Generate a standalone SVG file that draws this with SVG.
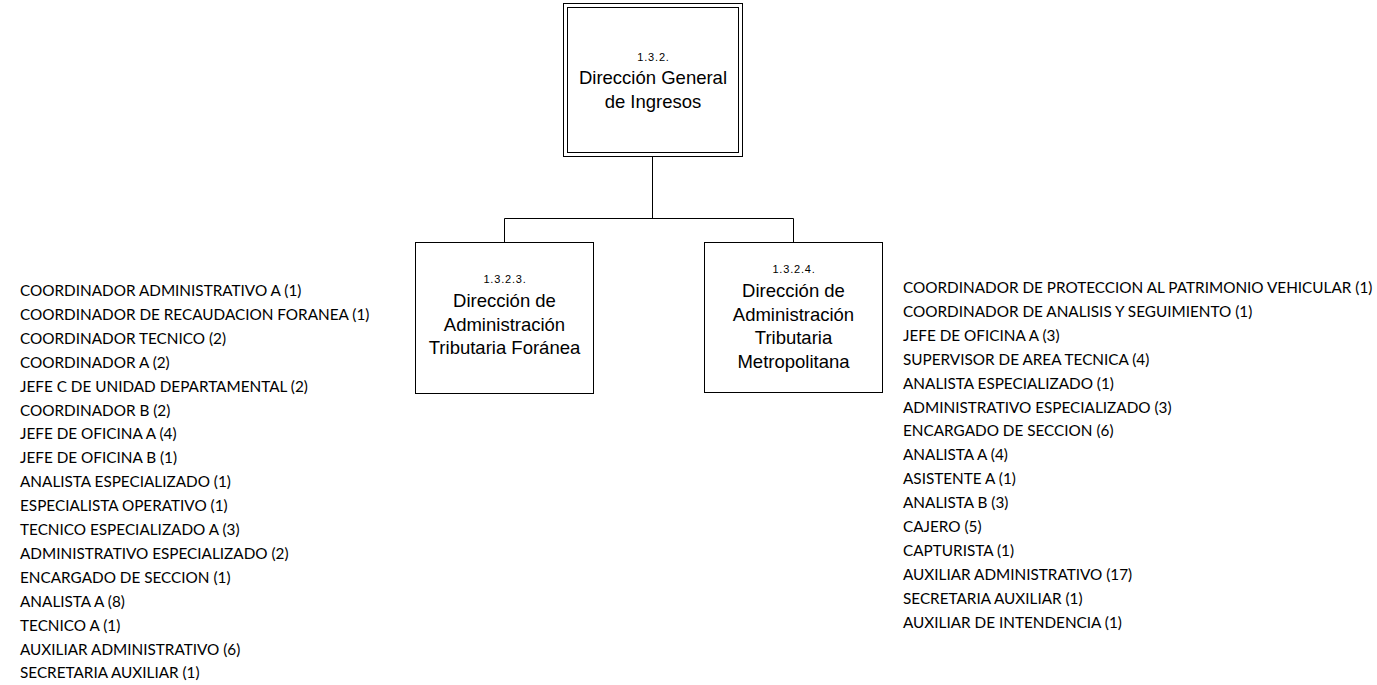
<svg xmlns="http://www.w3.org/2000/svg" width="1377" height="685" viewBox="0 0 1377 685">
  <style>
    .box { fill: #ffffff; stroke: #000000; stroke-width: 1; }
    .link { fill: none; stroke: #000000; stroke-width: 1; }
    .code { font-family: "Liberation Sans", Arial, sans-serif; font-size: 11px; letter-spacing: 0.8px; fill: #000000; text-anchor: middle; }
    .name { font-family: "Liberation Sans", Arial, sans-serif; font-size: 18.5px; fill: #000000; text-anchor: middle; }
    .post { font-family: Lato, "Open Sans", sans-serif; font-size: 15.3px; fill: #000000; }
  </style>
  <rect width="1377" height="685" fill="#ffffff"/>

  <!-- hierarchy lines -->
  <g id="connectors">
    <path class="link" d="M652.5,156.5 V218.5"/>
    <path class="link" d="M504.5,242.5 V218.5 H793.5 V242.5"/>
  </g>

  <!-- head office: double border -->
  <g id="node-1-3-2">
    <rect class="box" x="563.5" y="3.5" width="179" height="153"/>
    <rect class="box" x="567.5" y="7.5" width="171" height="145"/>
    <text class="code" x="653.5" y="60.5">1.3.2.</text>
    <text class="name" x="653" y="84">Dirección General</text>
    <text class="name" x="653" y="107.5">de Ingresos</text>
  </g>

  <g id="node-1-3-2-3">
    <rect class="box" x="415.5" y="242.5" width="178" height="151"/>
    <text class="code" x="505" y="283">1.3.2.3.</text>
    <text class="name" x="504.5" y="307">Dirección de</text>
    <text class="name" x="504.5" y="330.5">Administración</text>
    <text class="name" x="504.5" y="354">Tributaria Foránea</text>
  </g>

  <g id="node-1-3-2-4">
    <rect class="box" x="704.5" y="242.5" width="178" height="150"/>
    <text class="code" x="794" y="273">1.3.2.4.</text>
    <text class="name" x="793.5" y="297">Dirección de</text>
    <text class="name" x="793.5" y="320.5">Administración</text>
    <text class="name" x="793.5" y="344">Tributaria</text>
    <text class="name" x="793.5" y="367.5">Metropolitana</text>
  </g>

  <!-- staff of 1.3.2.3. -->
  <g id="staff-1-3-2-3" class="post">
    <text x="20" y="296">COORDINADOR ADMINISTRATIVO A (1)</text>
    <text x="20" y="319.9">COORDINADOR DE RECAUDACION FORANEA (1)</text>
    <text x="20" y="343.8">COORDINADOR TECNICO (2)</text>
    <text x="20" y="367.7">COORDINADOR A (2)</text>
    <text x="20" y="391.6">JEFE C DE UNIDAD DEPARTAMENTAL (2)</text>
    <text x="20" y="415.5">COORDINADOR B (2)</text>
    <text x="20" y="439.4">JEFE DE OFICINA A (4)</text>
    <text x="20" y="463.3">JEFE DE OFICINA B (1)</text>
    <text x="20" y="487.2">ANALISTA ESPECIALIZADO (1)</text>
    <text x="20" y="511.1">ESPECIALISTA OPERATIVO (1)</text>
    <text x="20" y="535">TECNICO ESPECIALIZADO A (3)</text>
    <text x="20" y="558.9">ADMINISTRATIVO ESPECIALIZADO (2)</text>
    <text x="20" y="582.8">ENCARGADO DE SECCION (1)</text>
    <text x="20" y="606.7">ANALISTA A (8)</text>
    <text x="20" y="630.6">TECNICO A (1)</text>
    <text x="20" y="654.5">AUXILIAR ADMINISTRATIVO (6)</text>
    <text x="20" y="678.4">SECRETARIA AUXILIAR (1)</text>
  </g>

  <!-- staff of 1.3.2.4. -->
  <g id="staff-1-3-2-4" class="post">
    <text x="903" y="293">COORDINADOR DE PROTECCION AL PATRIMONIO VEHICULAR (1)</text>
    <text x="903" y="316.9">COORDINADOR DE ANALISIS Y SEGUIMIENTO (1)</text>
    <text x="903" y="340.8">JEFE DE OFICINA A (3)</text>
    <text x="903" y="364.7">SUPERVISOR DE AREA TECNICA (4)</text>
    <text x="903" y="388.6">ANALISTA ESPECIALIZADO (1)</text>
    <text x="903" y="412.5">ADMINISTRATIVO ESPECIALIZADO (3)</text>
    <text x="903" y="436.4">ENCARGADO DE SECCION (6)</text>
    <text x="903" y="460.3">ANALISTA A (4)</text>
    <text x="903" y="484.2">ASISTENTE A (1)</text>
    <text x="903" y="508.1">ANALISTA B (3)</text>
    <text x="903" y="532">CAJERO (5)</text>
    <text x="903" y="555.9">CAPTURISTA (1)</text>
    <text x="903" y="579.8">AUXILIAR ADMINISTRATIVO (17)</text>
    <text x="903" y="603.7">SECRETARIA AUXILIAR (1)</text>
    <text x="903" y="627.6">AUXILIAR DE INTENDENCIA (1)</text>
  </g>
</svg>
